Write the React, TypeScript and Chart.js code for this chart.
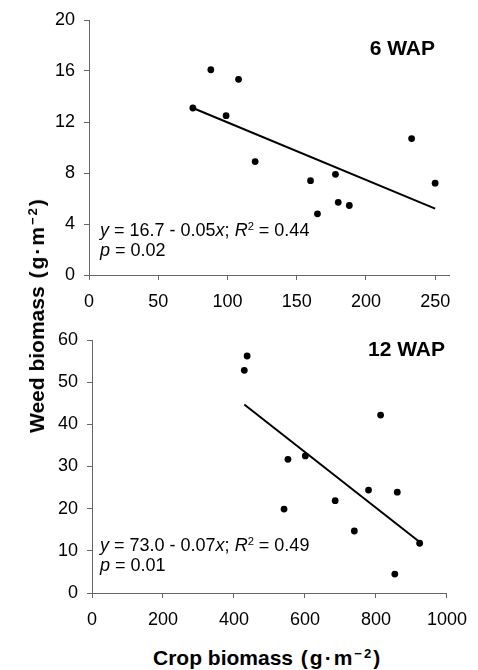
import React, { useEffect, useRef } from 'react';
import { Chart, registerables } from 'chart.js';

Chart.register(...registerables);

// ---- 6 WAP panel data ----
const crop6 = [75, 88, 99, 108, 120, 160, 165, 178, 180, 188, 233, 250];
const weed6 = [13.1, 16.1, 12.5, 15.35, 8.9, 7.4, 4.8, 7.9, 5.7, 5.45, 10.7, 7.2];
const fitCrop6 = [75, 250];
const fitWeed6 = [13.1, 5.2];
const xTicks6 = [0, 50, 100, 150, 200, 250];
const yTicks6 = [0, 4, 8, 12, 16, 20];
const xMax6 = 260;
const yMax6 = 20;
const label6 = '6 WAP';
const eq6 = { a: '16.7', b: '0.05', r2: '0.44', p: '0.02' };

// ---- 12 WAP panel data ----
const crop12 = [429, 437, 541, 552, 601, 685, 739, 779, 813, 853, 860, 923];
const weed12 = [52.8, 56.2, 19.9, 31.7, 32.5, 21.9, 14.7, 24.4, 42.2, 4.5, 23.9, 11.8];
const fitCrop12 = [429, 923];
const fitWeed12 = [44.7, 12.1];
const xTicks12 = [0, 200, 400, 600, 800, 1000];
const yTicks12 = [0, 10, 20, 30, 40, 50, 60];
const xMax12 = 1000;
const yMax12 = 60;
const label12 = '12 WAP';
const eq12 = { a: '73.0', b: '0.07', r2: '0.49', p: '0.01' };

const yTitle = 'Weed biomass';
const xTitle = 'Crop biomass';
const unitBase = 'g·m';
const unitExp = '−2';

const FONT = '"Liberation Sans", Arial, Helvetica, sans-serif';
const AXIS = '#666666';

type PanelProps = {
  xs: number[]; ys: number[]; fx: number[]; fy: number[];
  xTicks: number[]; yTicks: number[]; xMax: number; yMax: number;
  top: number; height: number; yAxisW: number; rightPad: number; xAxisH: number;
};

function Panel(p: PanelProps) {
  const ref = useRef<HTMLCanvasElement>(null);
  useEffect(() => {
    const ctx = ref.current!;
    const chart = new Chart(ctx, {
      type: 'scatter',
      data: {
        datasets: [
          {
            data: p.xs.map((x, i) => ({ x, y: p.ys[i] })),
            backgroundColor: '#000',
            borderColor: '#000',
            pointRadius: 3.4,
            pointBorderWidth: 0,
            showLine: false,
          },
          {
            data: p.fx.map((x, i) => ({ x, y: p.fy[i] })),
            borderColor: '#000',
            borderWidth: 2,
            pointRadius: 0,
            showLine: true,
          },
        ],
      },
      options: {
        responsive: false,
        animation: false,
        events: [],
        layout: { padding: { left: 0, right: p.rightPad, top: 20, bottom: 0 } },
        plugins: { legend: { display: false }, tooltip: { enabled: false } },
        scales: {
          x: {
            type: 'linear',
            min: 0,
            max: p.xMax,
            afterBuildTicks: (s: any) => { s.ticks = p.xTicks.map((v) => ({ value: v })); },
            afterFit: (s: any) => { s.height = p.xAxisH; },
            grid: { drawOnChartArea: false, drawTicks: true, tickLength: 5, color: AXIS },
            border: { display: true, color: AXIS, width: 1 },
            ticks: {
              color: '#000', font: { family: FONT, size: 18 }, padding: 11, maxRotation: 0, autoSkip: false,
              callback: (v: any) => String(v),
            },
          },
          y: {
            type: 'linear',
            min: 0,
            max: p.yMax,
            afterBuildTicks: (s: any) => { s.ticks = p.yTicks.map((v) => ({ value: v })); },
            afterFit: (s: any) => { s.width = p.yAxisW; },
            grid: { drawOnChartArea: false, drawTicks: true, tickLength: 5, color: AXIS },
            border: { display: true, color: AXIS, width: 1 },
            ticks: {
              color: '#000', font: { family: FONT, size: 18 }, padding: 9, autoSkip: false,
              callback: (v: any) => String(v),
            },
          },
        },
      },
    } as any);
    return () => chart.destroy();
  }, []);
  return (
    <canvas
      ref={ref}
      width={478}
      height={p.height}
      style={{ position: 'absolute', left: 0, top: p.top, width: 478, height: p.height }}
    />
  );
}

const supStyle: React.CSSProperties = { fontSize: '0.62em', position: 'relative', top: '-0.55em', lineHeight: 0, verticalAlign: 'baseline' };

function Equation(props: { eq: { a: string; b: string; r2: string; p: string }; left: number; top: number }) {
  const { eq } = props;
  return (
    <div style={{ position: 'absolute', left: props.left, top: props.top, fontFamily: FONT, fontSize: 18, lineHeight: '20px', whiteSpace: 'nowrap', color: '#000' }}>
      <div><i>y</i> = {eq.a} - {eq.b}<i>x</i>; <i>R</i><span style={supStyle}>2</span> = {eq.r2}</div>
      <div><i>p</i> = {eq.p}</div>
    </div>
  );
}

function Unit() {
  return (
    <span style={{ letterSpacing: '2px' }}>
      {' ('}{unitBase}<span style={supStyle}>{unitExp}</span>{')'}
    </span>
  );
}

export default function App() {
  return (
    <div style={{ position: 'absolute', left: 0, top: 0, width: 478, height: 670, background: '#fff', overflow: 'hidden' }}>
      <Panel xs={crop6} ys={weed6} fx={fitCrop6} fy={fitWeed6} xTicks={xTicks6} yTicks={yTicks6}
        xMax={xMax6} yMax={yMax6} top={0} height={310} yAxisW={89} rightPad={29} xAxisH={35} />
      <Panel xs={crop12} ys={weed12} fx={fitCrop12} fy={fitWeed12} xTicks={xTicks12} yTicks={yTicks12}
        xMax={xMax12} yMax={yMax12} top={320} height={310} yAxisW={92} rightPad={26} xAxisH={37} />

      <div style={{ position: 'absolute', right: 43, top: 37, fontFamily: FONT, fontWeight: 'bold', fontSize: 21, lineHeight: '21px' }}>{label6}</div>
      <div style={{ position: 'absolute', right: 33, top: 338, fontFamily: FONT, fontWeight: 'bold', fontSize: 21, lineHeight: '21px' }}>{label12}</div>

      <Equation eq={eq6} left={100} top={220} />
      <Equation eq={eq12} left={100} top={535} />

      <div style={{ position: 'absolute', left: 37, top: 315, transform: 'translate(-50%, -50%) rotate(-90deg)', fontFamily: FONT, fontWeight: 'bold', fontSize: 21, lineHeight: '22px', whiteSpace: 'nowrap' }}>
        {yTitle}<Unit />
      </div>
      <div style={{ position: 'absolute', left: 153, top: 647, fontFamily: FONT, fontWeight: 'bold', fontSize: 21, lineHeight: '22px', whiteSpace: 'nowrap' }}>
        {xTitle}<Unit />
      </div>
    </div>
  );
}
